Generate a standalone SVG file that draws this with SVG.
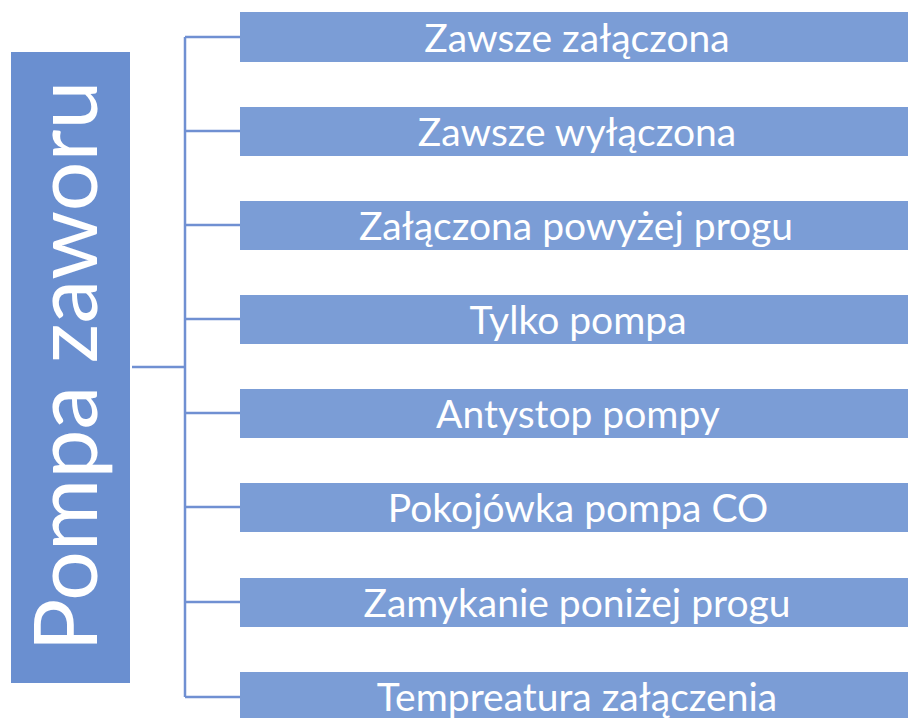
<svg xmlns="http://www.w3.org/2000/svg" width="908" height="718" viewBox="0 0 908 718">
<style>
.item{fill:#7b9dd6;}
.lbl{font-family:Lato,"Open Sans",sans-serif;font-size:39px;fill:#ffffff;text-anchor:middle;}
.conn{stroke:#7090d2;stroke-width:2.5;fill:none;}
</style>
<rect width="908" height="718" fill="#ffffff"/>
<g id="root">
<rect x="11" y="52" width="119" height="631" fill="#6a8fd0"/>
<text x="97" y="366" transform="rotate(-90 97 366)" font-family="Lato,'Open Sans',sans-serif" font-size="88" fill="#ffffff" text-anchor="middle">Pompa zaworu</text>
</g>
<g id="connectors">
<path class="conn" d="M132 367H185M185 37V697M185 37H240M185 131H240M185 225H240M185 319H240M185 413H240M185 507H240M185 602H240M185 697H240"/>
</g>
<g id="n1"><rect class="item" x="240" y="12" width="668" height="50"/><text class="lbl" x="577" y="52">Zawsze załączona</text></g>
<g id="n2"><rect class="item" x="240" y="107" width="668" height="49"/><text class="lbl" x="577" y="146">Zawsze wyłączona</text></g>
<g id="n3"><rect class="item" x="240" y="201" width="668" height="49"/><text class="lbl" x="576" y="240">Załączona powyżej progu</text></g>
<g id="n4"><rect class="item" x="240" y="295" width="668" height="49"/><text class="lbl" x="578" y="334">Tylko pompa</text></g>
<g id="n5"><rect class="item" x="240" y="389" width="668" height="49"/><text class="lbl" x="578" y="428">Antystop pompy</text></g>
<g id="n6"><rect class="item" x="240" y="483" width="668" height="49"/><text class="lbl" x="578" y="522">Pokojówka pompa CO</text></g>
<g id="n7"><rect class="item" x="240" y="578" width="668" height="49"/><text class="lbl" x="577" y="617">Zamykanie poniżej progu</text></g>
<g id="n8"><rect class="item" x="240" y="672" width="668" height="46"/><text class="lbl" x="577" y="711">Tempreatura załączenia</text></g>
</svg>
